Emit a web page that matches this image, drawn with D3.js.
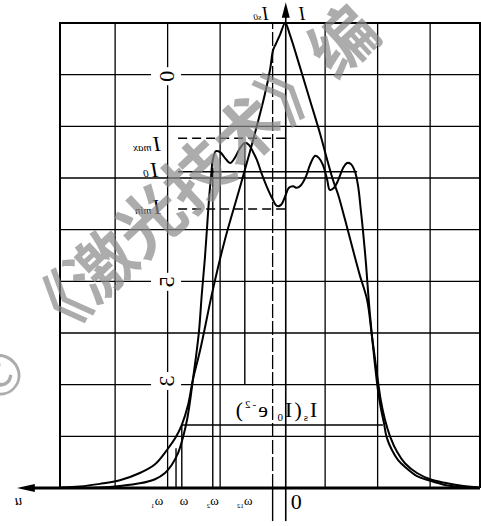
<!DOCTYPE html>
<html>
<head>
<meta charset="utf-8">
<script src="https://cdn.jsdelivr.net/npm/d3@7"></script>
<style>
  body { margin: 0; background: #fff; }
  text { font-family: "Liberation Serif", "DejaVu Serif", serif; fill: #000; }
</style>
</head>
<body>
<script>
// Intensity profiles (x in grid units from the axis, y in grid rows)
var peakedProfile = [
    [4.30, 0.01], [3.92, 0.03], [3.54, 0.08], [3.16, 0.15], [2.78, 0.29], [2.49, 0.46],
    [2.26, 0.74], [2.09, 0.99], [1.98, 1.22], [1.86, 1.61], [1.77, 2.09], [1.63, 2.67],
    [1.39, 3.83], [1.16, 4.80], [0.87, 5.83], [0.62, 6.74], [0.40, 7.61], [0.30, 8.09],
    [0.24, 8.48], [0.19, 8.59], [0.11, 8.77], [0.01, 9.00], [-0.08, 8.77], [-0.27, 8.15],
    [-0.46, 7.51], [-0.65, 6.87], [-0.79, 6.35], [-0.90, 5.96], [-1.00, 5.67], [-1.13, 5.19],
    [-1.28, 4.61], [-1.41, 4.12], [-1.55, 3.64], [-1.64, 2.96], [-1.74, 2.19], [-1.81, 1.70],
    [-1.89, 1.32], [-1.99, 0.99], [-2.12, 0.70], [-2.27, 0.48], [-2.50, 0.29], [-2.75, 0.17],
    [-3.03, 0.10], [-3.32, 0.05], [-3.70, 0.01]
];
var flatProfile = [
    [4.30, 0.00], [3.54, 0.01], [3.16, 0.04], [2.78, 0.09], [2.49, 0.17], [2.30, 0.29],
    [2.17, 0.45], [2.05, 0.68], [1.96, 0.97], [1.88, 1.32], [1.82, 1.70], [1.77, 2.09],
    [1.71, 2.54], [1.65, 3.06], [1.60, 3.74], [1.54, 4.45], [1.50, 5.03], [1.46, 5.61],
    [1.42, 6.06], [1.39, 6.35], [1.33, 6.52], [1.25, 6.50], [1.16, 6.39], [1.06, 6.29],
    [0.97, 6.39], [0.87, 6.58], [0.78, 6.68], [0.70, 6.64], [0.62, 6.50], [0.55, 6.35],
    [0.45, 6.06], [0.36, 5.83], [0.26, 5.61], [0.17, 5.46], [0.09, 5.48], [0.01, 5.65],
    [-0.06, 5.81], [-0.14, 5.84], [-0.21, 5.81], [-0.29, 5.86], [-0.39, 6.04], [-0.46, 6.25],
    [-0.56, 6.43], [-0.63, 6.39], [-0.71, 6.25], [-0.79, 5.96], [-0.84, 5.77], [-0.92, 5.81],
    [-1.00, 5.96], [-1.09, 6.19], [-1.17, 6.29], [-1.24, 6.27], [-1.32, 6.12], [-1.38, 5.83],
    [-1.43, 5.38], [-1.47, 4.99], [-1.53, 4.32], [-1.58, 3.64], [-1.64, 2.96], [-1.70, 2.38],
    [-1.75, 1.94], [-1.81, 1.55], [-1.87, 1.26], [-1.92, 0.99], [-2.02, 0.74], [-2.14, 0.54],
    [-2.27, 0.41], [-2.50, 0.23], [-2.75, 0.14], [-3.03, 0.06], [-3.32, 0.02], [-3.70, 0.00]
];

// grid
var gridX = [-2.75, -1.75, -0.75, 0.25, 1.25, 2.25, 3.25];
var gridY = [1, 2, 3, 4, 5, 6, 7, 8];

// intensity levels drawn across the profile
var levelNames = ["max", "0", "min", "s"];
var levelY = [6.77, 6.12, 5.40, 1.22];
var levelFrom = [2.05, 2.05, 2.05, 1.98];
var levelTo = [0.01, -1.36, 0.01, -1.85];

// vertical width markers
var markerX = [2.09, 1.98, 1.39, 0.78, 0.25, 0];
var markerTop = [0.77, 1.22, 6.2, 6.68, 0, 0];
var markerBottom = [0, 0, 0, 2.0, -0.64, -0.64];

// labels
var rowLabels = ["0", "5", "3"];
var rowLabelAt = [7.97, 3.99, 2.07];
var widthSubs = ["1", "", "2", "12"];
var widthLabelAt = [2.45, 1.94, 1.39, 0.78];

var width = 481, height = 526;

var svg = d3.select("body").append("svg")
    .attr("width", width)
    .attr("height", height);

// the scan is mirrored left-right, so build the chart normally and flip the whole group
var chart = svg.append("g")
    .attr("transform", "translate(" + width + ",0) scale(-1,1)");

var x = d3.scaleLinear().domain([-3.7, 4.3]).range([1, 421]);
var y = d3.scaleLinear().domain([0, 9]).range([488, 23]);

// grid lines
chart.selectAll(".gx").data(gridX).enter().append("line")
    .attr("x1", d => x(d)).attr("x2", d => x(d))
    .attr("y1", y(0)).attr("y2", y(9))
    .attr("stroke", "#000")
    .attr("stroke-width", 1.3)
    .attr("stroke-dasharray", d => d == 0.25 ? "14,3" : null);

chart.selectAll(".gy").data(gridY).enter().append("line")
    .attr("x1", x(-3.7)).attr("x2", x(4.3))
    .attr("y1", d => y(d)).attr("y2", d => y(d))
    .attr("stroke", "#000")
    .attr("stroke-width", 1.4);

// frame
chart.append("path")
    .attr("d", "M" + x(-3.7) + "," + y(0) + "V" + y(9) + "H" + x(4.3) + "V" + y(0))
    .attr("fill", "none")
    .attr("stroke", "#000")
    .attr("stroke-width", 2);

// markers
markerX.forEach(function (m, i) {
    chart.append("line")
        .attr("x1", x(m)).attr("x2", x(m))
        .attr("y1", y(markerTop[i])).attr("y2", y(markerBottom[i]))
        .attr("stroke", "#000")
        .attr("stroke-width", m == 0 ? 1.6 : 1.4);
});

// levels
levelNames.forEach(function (n, i) {
    chart.append("line")
        .attr("x1", x(levelFrom[i])).attr("x2", x(levelTo[i]))
        .attr("y1", y(levelY[i])).attr("y2", y(levelY[i]))
        .attr("stroke", "#000")
        .attr("stroke-width", 1.5)
        .attr("stroke-dasharray", (n == "max" || n == "min") ? "9,5" : null);
});

// x axis with arrow
chart.append("line")
    .attr("x1", x(-3.7)).attr("x2", x(4.9))
    .attr("y1", y(0)).attr("y2", y(0))
    .attr("stroke", "#000")
    .attr("stroke-width", 3);
chart.append("path")
    .attr("d", "M" + x(5.12) + "," + y(0) + "L" + x(4.78) + "," + (y(0) - 4) + "L" + x(4.78) + "," + (y(0) + 4) + "Z")
    .attr("fill", "#000");

// y axis with arrow
chart.append("line")
    .attr("x1", x(0)).attr("x2", x(0))
    .attr("y1", y(0)).attr("y2", y(9.15))
    .attr("stroke", "#000")
    .attr("stroke-width", 1.6);
chart.append("path")
    .attr("d", "M" + x(0) + "," + y(9.4) + "L" + (x(0) - 4) + "," + y(9.1) + "L" + (x(0) + 4) + "," + y(9.1) + "Z")
    .attr("fill", "#000");

// profiles
var line = d3.line()
    .x(d => x(d[0]))
    .y(d => y(d[1]))
    .curve(d3.curveCatmullRom.alpha(0.5));

[peakedProfile, flatProfile].forEach(function (p) {
    chart.append("path")
        .datum(p)
        .attr("d", line)
        .attr("fill", "none")
        .attr("stroke", "#000")
        .attr("stroke-width", 2);
});

// row labels (printed sideways on the grid)
rowLabels.forEach(function (t, i) {
    var g = chart.append("g")
        .attr("transform", "translate(" + x(2.28) + "," + y(rowLabelAt[i]) + ")");
    g.append("rect")
        .attr("x", -15).attr("y", -9).attr("width", 30).attr("height", 18)
        .attr("fill", "#fff");
    g.append("text")
        .attr("transform", "rotate(90)")
        .attr("text-anchor", "middle")
        .attr("dy", "0.36em")
        .attr("font-size", 22)
        .text(t);
});

// level labels I_max, I_0, I_min
var levelLabelAt = [[2.38, 6.52], [2.43, 6.02], [2.38, 5.30]];
levelLabelAt.forEach(function (p, i) {
    var t = chart.append("text")
        .attr("x", x(p[0]))
        .attr("y", y(p[1]))
        .attr("font-size", 22)
        .attr("font-style", "italic");
    t.append("tspan").text("I");
    t.append("tspan").attr("font-size", 11).attr("dx", 2).text(levelNames[i]);
});

// I_s(I_0 e^-2) label
var ls = chart.append("text")
    .attr("x", x(-0.6))
    .attr("y", y(1.37))
    .attr("font-size", 22)
    .attr("letter-spacing", 2);
ls.append("tspan").text("I");
ls.append("tspan").attr("font-size", 11).attr("dy", 4).text("s");
ls.append("tspan").attr("dy", -4).text("(I");
ls.append("tspan").attr("font-size", 11).attr("dy", 4).text("0");
ls.append("tspan").attr("dy", -4).text(" e");
ls.append("tspan").attr("font-size", 11).attr("dy", -9).text("-2");
ls.append("tspan").attr("dy", 9).text(")");

// width labels under the axis
widthSubs.forEach(function (s, i) {
    var t = chart.append("text")
        .attr("x", x(widthLabelAt[i]))
        .attr("y", y(-0.33))
        .attr("text-anchor", "middle")
        .attr("font-size", 13);
    t.append("tspan").text("ω");
    t.append("tspan").attr("font-size", 7).attr("dy", 3).text(s);
});

chart.append("text")
    .attr("x", x(-0.2))
    .attr("y", y(-0.41))
    .attr("text-anchor", "middle")
    .attr("font-size", 22)
    .text("0");

// axis names
chart.append("text")
    .attr("x", x(5.02)).attr("y", y(-0.33))
    .attr("font-size", 15).attr("font-style", "italic")
    .text("u");
chart.append("text")
    .attr("x", x(-0.37)).attr("y", y(9.06))
    .attr("font-size", 18).attr("font-style", "italic")
    .text("I");
var ti = chart.append("text")
    .attr("x", x(0.33)).attr("y", y(9.06))
    .attr("font-size", 18).attr("font-style", "italic");
ti.append("tspan").text("I");
ti.append("tspan").attr("font-size", 9).attr("dx", 1).text("s0");

// journal watermark across the scan
var wm = svg.append("g")
    .attr("transform", "translate(46,351) rotate(-43)")
    .attr("opacity", 0.7);
wm.append("text")
    .attr("font-size", 66)
    .attr("font-weight", "bold")
    .style("fill", "#8a8a8a")
    .style("font-family", "'Noto Sans CJK SC'")
    .text("《激光技术》编");
wm.append("text")
    .attr("x", -50).attr("y", 6)
    .attr("text-anchor", "middle")
    .attr("font-size", 56)
    .style("fill", "#8a8a8a")
    .style("font-family", "'Noto Sans CJK SC'")
    .text("©");
</script>
</body>
</html>
